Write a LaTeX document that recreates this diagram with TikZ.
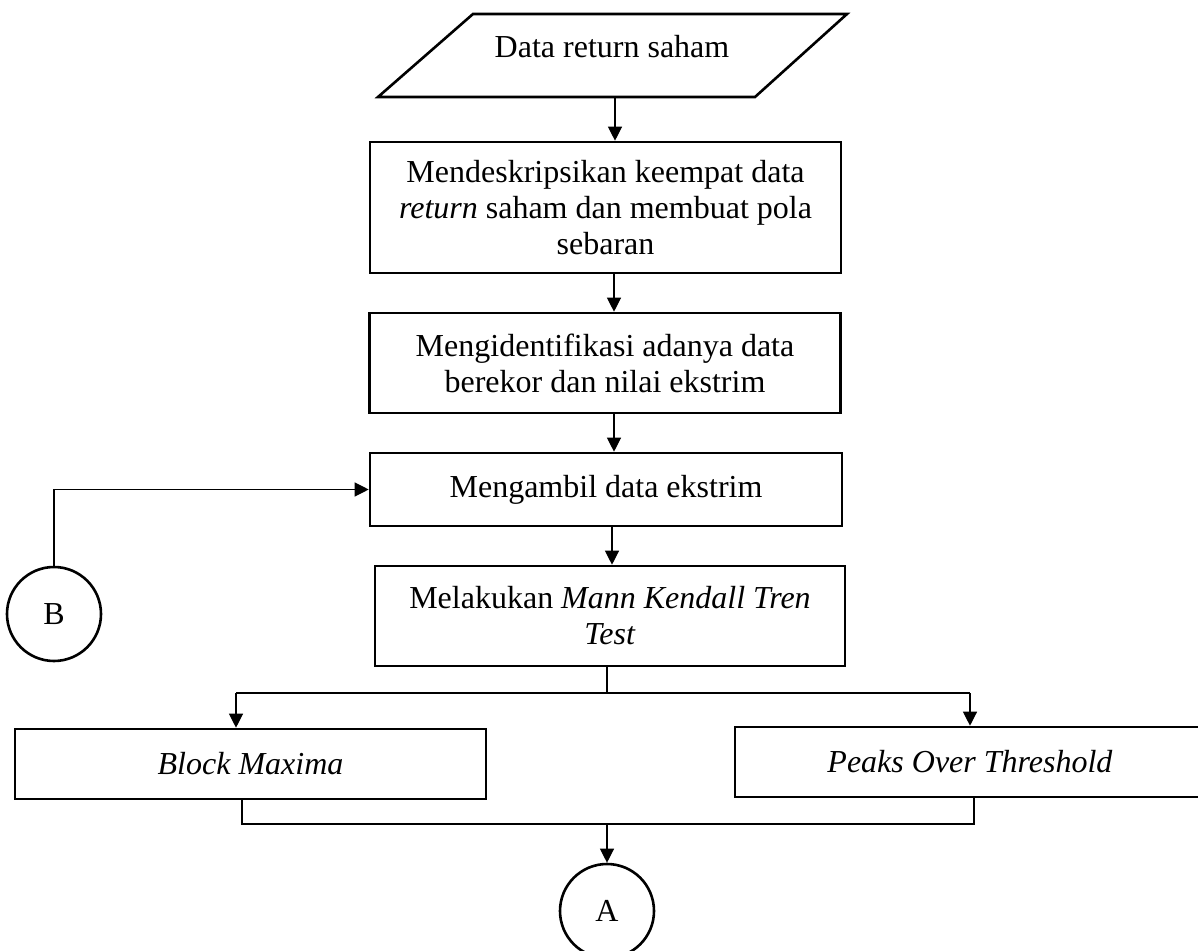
\documentclass[tikz,border=0pt]{standalone}
\usepackage{fontspec}
\setmainfont{Liberation Serif}
\usetikzlibrary{arrows.meta}
\begin{document}
\begin{tikzpicture}[x=0.5pt,y=-0.5pt,
  txt/.style={font=\fontsize{16}{18}\selectfont},
  box/.style={draw, line width=1.3pt, inner sep=0pt, align=center, txt},
  conn/.style={line width=0.6pt},
  arr/.style={conn, -{Triangle[width=7pt,length=7pt]}},
  circ/.style={draw, circle, line width=1.3pt, minimum size=47pt, inner sep=0pt, txt}]
\useasboundingbox (0,0) rectangle (1198,951);
\clip (0,0) rectangle (1198,951);
% input parallelogram
\draw[line width=1.3pt] (473,14) -- (847,14) -- (755,97) -- (378,97) -- cycle;
\node[txt] (data) at (612,47) {Data return saham};
\coordinate (dataB) at (615,97);
% process boxes
\node[box, minimum width=235.5pt, minimum height=65.5pt] (b1) at (605.5,207.5)
  {Mendeskripsikan keempat data\\\textit{return} saham dan membuat pola\\sebaran};
\node[box, minimum width=235.5pt, minimum height=50pt] (b2) at (605,363)
  {Mengidentifikasi adanya data\\berekor dan nilai ekstrim};
\node[box, minimum width=236pt, minimum height=36.5pt] (b3) at (606,489.5)
  {Mengambil data ekstrim};
\node[box, minimum width=235pt, minimum height=50pt] (b4) at (610,616)
  {Melakukan \textit{Mann Kendall Tren}\\\textit{Test}};
\node[box, minimum width=235.5pt, minimum height=35pt] (bm) at (250.5,764)
  {\textit{Block Maxima}};
\node[box, minimum width=235pt, minimum height=35pt] (pot) at (970,762)
  {\textit{Peaks Over Threshold}};
% connectors
\node[circ] (B) at (54,614) {B};
\node[circ] (A) at (607,911) {A};
\coordinate (c1) at (614,0);
\coordinate (c2) at (612,0);
\draw[arr] (dataB) -- (dataB |- b1.north);
\draw[arr] (b1.south -| c1) -- (b2.north -| c1);
\draw[arr] (b2.south -| c1) -- (b3.north -| c1);
\draw[arr] (b3.south -| c2) -- (b4.north -| c2);
\draw[arr] (B.north) |- (b3.west);
% split
\coordinate (s) at (607,693);
\coordinate (sl) at (236,693);
\coordinate (sr) at (970,693);
\draw[conn] (b4.south -| s) -- (s);
\draw[conn] (sl) -- (sr);
\draw[arr] (sl) -- (sl |- bm.north);
\draw[arr] (sr) -- (sr |- pot.north);
% merge
\coordinate (ml) at (242,824);
\coordinate (mr) at (974,824);
\coordinate (m) at (607,824);
\draw[conn] (bm.south -| ml) -- (ml) -- (mr) -- (pot.south -| mr);
\draw[arr] (m) -- (A.north);
\end{tikzpicture}
\end{document}
